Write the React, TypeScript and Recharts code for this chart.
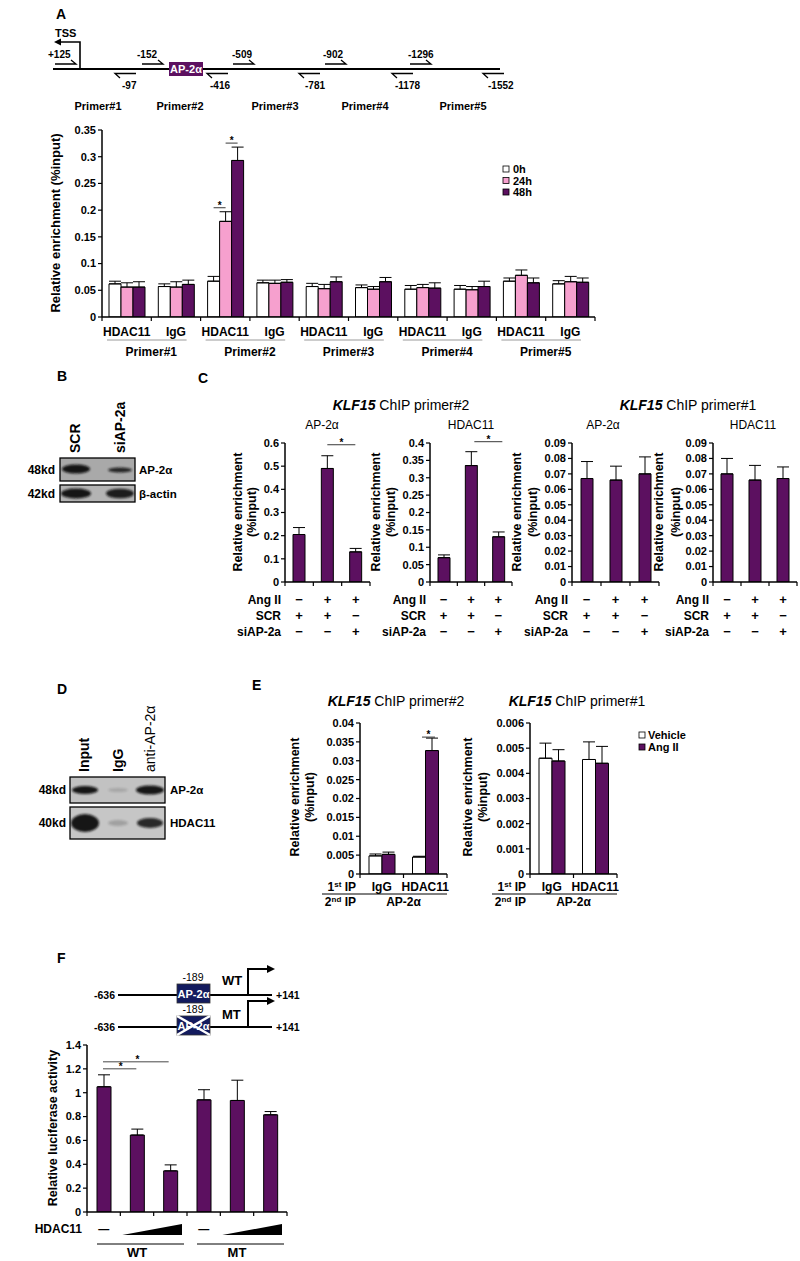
import React from "react";
import { BarChart, Bar, XAxis, YAxis, ErrorBar, LabelList } from "recharts";

const FONT = "'Liberation Sans', Arial, Helvetica, sans-serif";
const INK = "#000";
const PINK = "#f6a0ce";
const PURPLE = "#5c1060";
const NAVY = "#131b5e";

// ---- Panel A: ChIP over the KLF15 promoter, 0h / 24h / 48h
const aCats = ["HDAC11", "IgG", "HDAC11", "IgG", "HDAC11", "IgG", "HDAC11", "IgG", "HDAC11", "IgG"];
const aPrimers = ["Primer#1", "Primer#2", "Primer#3", "Primer#4", "Primer#5"];
const a0h = [0.062, 0.057, 0.067, 0.064, 0.057, 0.055, 0.052, 0.052, 0.067, 0.062];
const a24h = [0.056, 0.056, 0.179, 0.063, 0.053, 0.052, 0.055, 0.051, 0.078, 0.066];
const a48h = [0.056, 0.061, 0.293, 0.065, 0.066, 0.066, 0.054, 0.057, 0.064, 0.065];
const a0hErr = [0.005, 0.005, 0.009, 0.005, 0.006, 0.005, 0.007, 0.007, 0.006, 0.006];
const a24hErr = [0.008, 0.010, 0.018, 0.006, 0.008, 0.005, 0.006, 0.006, 0.010, 0.010];
const a48hErr = [0.010, 0.008, 0.025, 0.005, 0.009, 0.008, 0.010, 0.010, 0.009, 0.008];
const aTicks = [0, 0.05, 0.1, 0.15, 0.2, 0.25, 0.3, 0.35];

// ---- Panel C: ChIP at primer#2 / primer#1 after siAP-2a
const cConds = ["SCR", "Ang II + SCR", "Ang II + siAP-2a"];
const cRowNames = ["Ang II", "SCR", "siAP-2a"];
const cAngII = ["\u2212", "+", "+"];
const cSCR = ["+", "+", "\u2212"];
const cSi = ["\u2212", "\u2212", "+"];
const c1Vals = [0.205, 0.49, 0.13];
const c1Err = [0.03, 0.055, 0.015];
const c2Vals = [0.07, 0.335, 0.13];
const c2Err = [0.008, 0.04, 0.014];
const c3Vals = [0.067, 0.066, 0.07];
const c3Err = [0.011, 0.009, 0.011];
const c4Vals = [0.07, 0.066, 0.067];
const c4Err = [0.01, 0.0095, 0.0075];
const c1Ticks = [0, 0.1, 0.2, 0.3, 0.4, 0.5, 0.6];
const c2Ticks = [0, 0.05, 0.1, 0.15, 0.2, 0.25, 0.3, 0.35, 0.4];
const c34Ticks = [0, 0.01, 0.02, 0.03, 0.04, 0.05, 0.06, 0.07, 0.08, 0.09];

// ---- Panel E: re-ChIP
const eCats = ["IgG", "HDAC11"];
const e1Vehicle = [0.0048, 0.0045];
const e1AngII = [0.0052, 0.0327];
const e1VehicleErr = [0.0005, 0.0002];
const e1AngIIErr = [0.0006, 0.0033];
const e2Vehicle = [0.0046, 0.00455];
const e2AngII = [0.00449, 0.0044];
const e2VehicleErr = [0.0006, 0.0007];
const e2AngIIErr = [0.00045, 0.00067];
const e1Ticks = [0, 0.005, 0.01, 0.015, 0.02, 0.025, 0.03, 0.035, 0.04];
const e2Ticks = [0, 0.001, 0.002, 0.003, 0.004, 0.005, 0.006];

// ---- Panel F: luciferase
const fConstruct = ["WT", "WT", "WT", "MT", "MT", "MT"];
const fDose = [0, 1, 2, 0, 1, 2];
const fVals = [1.05, 0.645, 0.345, 0.94, 0.935, 0.815];
const fErr = [0.1, 0.05, 0.05, 0.085, 0.17, 0.027];
const fTicks = [0, 0.2, 0.4, 0.6, 0.8, 1, 1.2, 1.4];

// plot rectangles [left, top, right, bottom] in page px
const A_PLOT = [102, 130, 595, 317];
const C_PLOTS = [
  [285, 443, 370, 582],
  [430, 443, 512, 582],
  [572, 443, 659, 582],
  [713, 443, 797, 582],
];
const E_PLOTS = [
  [360, 723, 447, 874],
  [530, 723, 617, 874],
];
const F_PLOT = [87, 1045, 287, 1212];

const YW = 40;
const ML = 36;
const MR = 6;
const MT = 24;
const XH = 70;
const AXIS = { stroke: INK, strokeWidth: 1.5 };

const aData = aCats.map((cat, i) => ({
  cat,
  v0: a0h[i],
  v24: a24h[i],
  v48: a48h[i],
  e0: [0, a0hErr[i]],
  e24: [0, a24hErr[i]],
  e48: [0, a48hErr[i]],
}));

const cData = (vals: number[], errs: number[]) =>
  cConds.map((cond, i) => ({ cond, v: vals[i], e: [0, errs[i]] }));

const eData = (veh: number[], ang: number[], vehErr: number[], angErr: number[]) =>
  eCats.map((cat, i) => ({ cat, veh: veh[i], ang: ang[i], ve: [0, vehErr[i]], ae: [0, angErr[i]] }));

const fData = fVals.map((v, i) => ({ id: fConstruct[i] + fDose[i], v, e: [0, fErr[i]] }));

function ChartBox({ plot, data, barSize, children }: any) {
  const [x0, y0, x1, y1] = plot;
  return (
    <div style={{ position: "absolute", left: x0 - YW - ML, top: y0 - MT }}>
      <BarChart
        width={x1 - x0 + YW + ML + MR}
        height={y1 - y0 + MT + XH}
        data={data}
        margin={{ top: MT, right: MR, bottom: 0, left: ML }}
        barGap={0}
        barSize={barSize}
      >
        {children}
      </BarChart>
    </div>
  );
}

const yAxis = (ticks: number[]) => (
  <YAxis
    width={YW}
    type="number"
    domain={[0, ticks[ticks.length - 1]]}
    ticks={ticks}
    interval={0}
    tickSize={4}
    tickMargin={2}
    axisLine={AXIS}
    tickLine={{ stroke: INK, strokeWidth: 1.2 }}
    tick={{ fill: INK, fontSize: 11, fontWeight: 700 }}
    allowDataOverflow
  />
);

const errBar = (key: string) => (
  <ErrorBar dataKey={key} width={6} stroke={INK} strokeWidth={1} direction="y" isAnimationActive={false} />
);

// significance line + star drawn from the bar's own geometry
const sig = (match: number, err: number, dx1: number, dx2: number, lift: number) => (p: any) => {
  const v = Number(p.value);
  if (Math.abs(v - match) > 1e-9 || !p.height) return null;
  const top = p.y - (p.height / v) * err - lift;
  const cx = p.x + p.width / 2;
  return (
    <g>
      <line x1={cx + dx1} x2={cx + dx2} y1={top} y2={top} stroke="#222" strokeWidth={0.9} />
      <text x={cx + (dx1 + dx2) / 2} y={top + 1} textAnchor="middle" fontSize={10} fontWeight={700}>*</text>
    </g>
  );
};

const tickMarks = (left: number, w: number, y: number, last: boolean) => (
  <g>
    <line x1={left} x2={left} y1={y} y2={y + 4} stroke={INK} strokeWidth={1.2} />
    {last && <line x1={left + w} x2={left + w} y1={y} y2={y + 4} stroke={INK} strokeWidth={1.2} />}
  </g>
);

const aCatW = (A_PLOT[2] - A_PLOT[0]) / aCats.length;
function ATick({ x, y, index, payload }: any) {
  const left = x - aCatW / 2;
  return (
    <g>
      {tickMarks(left, aCatW, y, index === aCats.length - 1)}
      <text x={x} y={y + 19} textAnchor="middle" fontSize={12} fontWeight={700} fill={INK}>{payload.value}</text>
      {index % 2 === 0 && (
        <g>
          <line x1={left + 5} x2={left + 2 * aCatW - 14} y1={y + 23} y2={y + 23} stroke="#9a9a9a" strokeWidth={1} />
          <text x={left + aCatW} y={y + 39} textAnchor="middle" fontSize={12} fontWeight={700} fill={INK}>
            {aPrimers[index / 2]}
          </text>
        </g>
      )}
    </g>
  );
}

const cTick = (plot: number[]) => {
  const w = (plot[2] - plot[0]) / cConds.length;
  const rows = [cAngII, cSCR, cSi];
  return ({ x, y, index }: any) => {
    const left = x - w / 2;
    return (
      <g>
        {tickMarks(left, w, y, index === cConds.length - 1)}
        {rows.map((r, k) => (
          <text key={k} x={x} y={y + 21.5 + 16 * k} textAnchor="middle" fontSize={13} fontWeight={700} fill={INK}>{r[index]}</text>
        ))}
        {index === 0 &&
          cRowNames.map((n, k) => (
            <text key={n} x={left - 4} y={y + 21.5 + 16 * k} textAnchor="end" fontSize={12} fontWeight={700} fill={INK}>{n}</text>
          ))}
      </g>
    );
  };
};

const eTick = (plot: number[]) => {
  const w = (plot[2] - plot[0]) / eCats.length;
  return ({ x, y, index, payload }: any) => {
    const left = x - w / 2;
    return (
      <g>
        {tickMarks(left, w, y, index === eCats.length - 1)}
        <text x={x} y={y + 17} textAnchor="middle" fontSize={12} fontWeight={700} fill={INK}>{payload.value}</text>
        {index === 0 && (
          <g>
            <text x={left - 4} y={y + 17} textAnchor="end" fontSize={12} fontWeight={700} fill={INK}>
              1<tspan dy={-4} fontSize={8}>st</tspan><tspan dy={4}> IP</tspan>
            </text>
            <line x1={left - 38} x2={left + 2 * w} y1={y + 20} y2={y + 20} stroke={INK} strokeWidth={1} />
            <text x={left - 4} y={y + 32} textAnchor="end" fontSize={12} fontWeight={700} fill={INK}>
              2<tspan dy={-4} fontSize={8}>nd</tspan><tspan dy={4}> IP</tspan>
            </text>
            <text x={left + w} y={y + 32} textAnchor="middle" fontSize={12} fontWeight={700} fill={INK}>AP-2α</text>
          </g>
        )}
      </g>
    );
  };
};

const fCatW = (F_PLOT[2] - F_PLOT[0]) / fVals.length;
function FTick({ x, y, index }: any) {
  const left = x - fCatW / 2;
  const d = fDose[index];
  return (
    <g>
      {tickMarks(left, fCatW, y, index === fVals.length - 1)}
      {d === 0 && <text x={x} y={y + 21} textAnchor="middle" fontSize={11} fontWeight={700} fill={INK}>—</text>}
      {d === 1 && (
        <polygon
          points={`${left + 2},${y + 23} ${left + 2 * fCatW - 5},${y + 23} ${left + 2 * fCatW - 5},${y + 12}`}
          fill={INK}
        />
      )}
      {index === 0 && <text x={left - 5} y={y + 21} textAnchor="end" fontSize={12} fontWeight={700} fill={INK}>HDAC11</text>}
      {d === 0 && (
        <g>
          <line x1={left + 10} x2={left + 3 * fCatW - 3} y1={y + 32} y2={y + 32} stroke={INK} strokeWidth={1} />
          <text x={left + 1.5 * fCatW} y={y + 45} textAnchor="middle" fontSize={13} fontWeight={700} fill={INK}>
            {fConstruct[index]}
          </text>
        </g>
      )}
    </g>
  );
}

const fSig = (p: any) => {
  const v = Number(p.value);
  if (Math.abs(v - fVals[0]) > 1e-9 || !p.height) return null;
  const top = p.y - (p.height / v) * fErr[0];
  const cx = p.x + p.width / 2;
  return (
    <g>
      <line x1={cx - 1} x2={cx + fCatW - 1} y1={top - 6} y2={top - 6} stroke="#333" strokeWidth={0.9} />
      <text x={cx + fCatW / 2} y={top - 5} textAnchor="middle" fontSize={10} fontWeight={700}>*</text>
      <line x1={cx - 1} x2={cx + 2 * fCatW - 2} y1={top - 13} y2={top - 13} stroke="#333" strokeWidth={0.9} />
      <text x={cx + fCatW} y={top - 12} textAnchor="middle" fontSize={10} fontWeight={700}>*</text>
    </g>
  );
};

function T({ x, y, s = 12, w = 700, a = "start", fill = INK, children }: any) {
  return (
    <text x={x} y={y} fontSize={s} fontWeight={w} textAnchor={a} fill={fill}>
      {children}
    </text>
  );
}

function VText({ x, y, s = 12.5, w = 700, a = "middle", children }: any) {
  return (
    <text x={x} y={y} fontSize={s} fontWeight={w} textAnchor={a} dominantBaseline="central" transform={`rotate(-90 ${x} ${y})`}>
      {children}
    </text>
  );
}

// promoter schematic (panel A): forward / reverse primers [label, arrow x, label x]
const aFwd: [string, number, number][] = [["+125", 55, 48], ["-152", 142, 137], ["-509", 233, 232], ["-902", 325, 323], ["-1296", 410, 408]];
const aRev: [string, number, number][] = [["-97", 115, 122], ["-416", 207, 210], ["-781", 299, 305], ["-1178", 392, 395], ["-1552", 483, 488]];
const aPrimerX = [98, 180, 275, 365, 463];

function Blot({ x, y, w, h, fill, bands }: any) {
  return (
    <g>
      <rect x={x} y={y} width={w} height={h} fill={fill} />
      {bands.map((b: number[], i: number) => (
        <ellipse key={i} cx={b[0]} cy={b[1]} rx={b[2]} ry={b[3]} fill="#111" opacity={b[4]} filter="url(#soft)" />
      ))}
      <rect x={x} y={y} width={w} height={h} fill="none" stroke={INK} strokeWidth={1.3} />
    </g>
  );
}

function Promoter({ y, mutant }: any) {
  const bx = 177;
  const top = y - 11;
  return (
    <g>
      <line x1={118} x2={272} y1={y} y2={y} stroke={INK} strokeWidth={2} />
      <T x={115} y={y + 4} s={10.5} a="end">-636</T>
      <T x={276} y={y + 4} s={10.5}>+141</T>
      <T x={193} y={top - 3} s={10.5} w={400} a="middle">-189</T>
      <T x={222} y={mutant ? y - 8 : y - 10} s={13}>{mutant ? "MT" : "WT"}</T>
      <rect x={bx} y={top} width={33} height={19} fill={NAVY} stroke="#333" strokeWidth={0.8} />
      <T x={bx + 16.5} y={top + 14} s={11} a="middle" fill="#fff">AP-2α</T>
      {mutant && (
        <g>
          <line x1={bx} y1={top} x2={bx + 33} y2={top + 19} stroke="#fff" strokeWidth={2.5} />
          <line x1={bx} y1={top + 19} x2={bx + 33} y2={top} stroke="#fff" strokeWidth={2.5} />
        </g>
      )}
      <polyline points={`248,${y} 248,${y - 26} 268,${y - 26}`} fill="none" stroke={INK} strokeWidth={2} />
      <polygon points={`267,${y - 30} 275,${y - 26} 267,${y - 22}`} fill={INK} />
    </g>
  );
}

export default function App() {
  const cCharts = [
    { plot: C_PLOTS[0], data: cData(c1Vals, c1Err), ticks: c1Ticks, sig: sig(c1Vals[1], c1Err[1], 0, 28, 11) },
    { plot: C_PLOTS[1], data: cData(c2Vals, c2Err), ticks: c2Ticks, sig: sig(c2Vals[1], c2Err[1], 3, 31, 10) },
    { plot: C_PLOTS[2], data: cData(c3Vals, c3Err), ticks: c34Ticks, sig: null },
    { plot: C_PLOTS[3], data: cData(c4Vals, c4Err), ticks: c34Ticks, sig: null },
  ];
  const cTitles = ["AP-2α", "HDAC11", "AP-2α", "HDAC11"];
  const cTitleX = [322, 471, 603, 753];
  const cLabelX = [[238, 252], [376, 391], [517, 533], [659, 676]];

  const eCharts = [
    { plot: E_PLOTS[0], data: eData(e1Vehicle, e1AngII, e1VehicleErr, e1AngIIErr), ticks: e1Ticks, sig: sig(e1AngII[1], e1AngIIErr[1], -10, 3, 1) },
    { plot: E_PLOTS[1], data: eData(e2Vehicle, e2AngII, e2VehicleErr, e2AngIIErr), ticks: e2Ticks, sig: null },
  ];

  return (
    <div
      style={{
        position: "absolute",
        left: 0,
        top: 0,
        width: 800,
        height: 1261,
        background: "#fff",
        overflow: "hidden",
        fontFamily: FONT,
      }}
    >
      {/* A */}
      <ChartBox plot={A_PLOT} data={aData} barSize={12}>
        <XAxis dataKey="cat" height={XH} interval={0} tickSize={0} tickMargin={0} tickLine={false} axisLine={AXIS} tick={ATick} />
        {yAxis(aTicks)}
        <Bar dataKey="v0" fill="#fff" stroke={INK} strokeWidth={1} isAnimationActive={false}>
          {errBar("e0")}
        </Bar>
        <Bar dataKey="v24" fill={PINK} stroke={INK} strokeWidth={1} isAnimationActive={false}>
          {errBar("e24")}
          <LabelList content={sig(a24h[2], a24hErr[2], -12, 0, 4)} />
        </Bar>
        <Bar dataKey="v48" fill={PURPLE} stroke={INK} strokeWidth={1} isAnimationActive={false}>
          {errBar("e48")}
          <LabelList content={sig(a48h[2], a48hErr[2], -12, 0, 4)} />
        </Bar>
      </ChartBox>

      {/* C */}
      {cCharts.map((c, i) => (
        <ChartBox key={i} plot={c.plot} data={c.data} barSize={12}>
          <XAxis dataKey="cond" height={XH} interval={0} tickSize={0} tickMargin={0} tickLine={false} axisLine={AXIS} tick={cTick(c.plot)} />
          {yAxis(c.ticks)}
          <Bar dataKey="v" fill={PURPLE} stroke={INK} strokeWidth={1} isAnimationActive={false}>
            {errBar("e")}
            {c.sig && <LabelList content={c.sig} />}
          </Bar>
        </ChartBox>
      ))}

      {/* E */}
      {eCharts.map((c, i) => (
        <ChartBox key={i} plot={c.plot} data={c.data} barSize={13}>
          <XAxis dataKey="cat" height={XH} interval={0} tickSize={0} tickMargin={0} tickLine={false} axisLine={AXIS} tick={eTick(c.plot)} />
          {yAxis(c.ticks)}
          <Bar dataKey="veh" fill="#fff" stroke={INK} strokeWidth={1} isAnimationActive={false}>
            {errBar("ve")}
          </Bar>
          <Bar dataKey="ang" fill={PURPLE} stroke={INK} strokeWidth={1} isAnimationActive={false}>
            {errBar("ae")}
            {c.sig && <LabelList content={c.sig} />}
          </Bar>
        </ChartBox>
      ))}

      {/* F */}
      <ChartBox plot={F_PLOT} data={fData} barSize={14}>
        <XAxis dataKey="id" height={XH} interval={0} tickSize={0} tickMargin={0} tickLine={false} axisLine={AXIS} tick={FTick} />
        {yAxis(fTicks)}
        <Bar dataKey="v" fill={PURPLE} stroke={INK} strokeWidth={1} isAnimationActive={false}>
          {errBar("e")}
          <LabelList content={fSig} />
        </Bar>
      </ChartBox>

      <svg width={800} height={1261} style={{ position: "absolute", left: 0, top: 0, pointerEvents: "none" }}>
        <defs>
          <filter id="soft" x="-30%" y="-60%" width="160%" height="220%">
            <feGaussianBlur stdDeviation="1.2" />
          </filter>
        </defs>

        {/* panel letters */}
        <T x={56} y={19} s={14}>A</T>
        <T x={57} y={381} s={14}>B</T>
        <T x={198} y={383} s={14}>C</T>
        <T x={57} y={694} s={14}>D</T>
        <T x={252} y={690} s={14}>E</T>
        <T x={57} y={963} s={14}>F</T>

        {/* A promoter schematic */}
        <T x={55} y={37} s={11}>TSS</T>
        <polyline points="80,69 80,42 60,42" fill="none" stroke={INK} strokeWidth={1.6} />
        <polygon points="61,38.5 54,42 61,45.5" fill={INK} />
        <line x1={53} x2={500} y1={69} y2={69} stroke={INK} strokeWidth={2} />
        {aFwd.map(([t, x, lx]) => (
          <g key={t}>
            <T x={lx} y={58} s={10}>{t}</T>
            <polyline points={`${x},64 ${x + 21},64 ${x + 16},60`} fill="none" stroke={INK} strokeWidth={1.3} />
          </g>
        ))}
        {aRev.map(([t, x, lx]) => (
          <g key={t}>
            <T x={lx} y={89} s={10}>{t}</T>
            <polyline points={`${x + 5},78 ${x},73.5 ${x + 21},73.5`} fill="none" stroke={INK} strokeWidth={1.3} />
          </g>
        ))}
        <rect x={169} y={62} width={34} height={14} fill={PURPLE} />
        <T x={186} y={73} s={11} a="middle" fill="#fff">AP-2α</T>
        {aPrimers.map((p, i) => (
          <T key={p} x={aPrimerX[i]} y={110} s={11} a="middle">{p}</T>
        ))}

        {/* A axis title + legend */}
        <VText x={55} y={223} s={13}>Relative enrichment (%input)</VText>
        {[["0h", "#fff"], ["24h", PINK], ["48h", PURPLE]].map(([t, f], i) => (
          <g key={t}>
            <rect x={503} y={166 + i * 11.5} width={6} height={6} fill={f} stroke={INK} strokeWidth={0.8} />
            <T x={513} y={173 + i * 11.5} s={11}>{t}</T>
          </g>
        ))}

        {/* B western blot */}
        <VText x={75} y={453} s={14} a="start">SCR</VText>
        <VText x={120} y={453} s={14} a="start">siAP-2a</VText>
        <Blot x={60} y={458} w={75} h={23} fill="#a9a9a9" bands={[[76, 469, 14, 4.5, 0.95], [120, 470, 12, 2.5, 0.85]]} />
        <Blot x={60} y={485} w={75} h={17} fill="#b4b4b4" bands={[[76, 493.5, 15, 5, 0.95], [120, 493.5, 14, 4.8, 0.9]]} />
        <T x={55} y={474} a="end">48kd</T>
        <T x={55} y={498} a="end">42kd</T>
        <T x={139} y={474} s={11.5}>AP-2α</T>
        <T x={139} y={498} s={11.5}>β-actin</T>

        {/* C titles and axis labels */}
        <text x={401} y={410} fontSize={14} textAnchor="middle">
          <tspan fontWeight={700} fontStyle="italic">KLF15</tspan> ChIP primer#2
        </text>
        <text x={688} y={410} fontSize={14} textAnchor="middle">
          <tspan fontWeight={700} fontStyle="italic">KLF15</tspan> ChIP primer#1
        </text>
        {cTitles.map((t, i) => (
          <g key={i}>
            <T x={cTitleX[i]} y={429} s={12} w={400} a="middle">{t}</T>
            <VText x={cLabelX[i][0]} y={512}>Relative enrichment</VText>
            <VText x={cLabelX[i][1]} y={512}>(%input)</VText>
          </g>
        ))}

        {/* D co-IP blot */}
        <VText x={84} y={772} s={14} a="start">Input</VText>
        <VText x={118} y={772} s={14} a="start">IgG</VText>
        <VText x={150} y={772} s={14} w={400} a="start">anti-AP-2α</VText>
        <Blot x={70} y={777} w={95} h={26} fill="#c2c2c2" bands={[[85, 790, 13, 4, 0.95], [118, 790, 10, 2, 0.15], [150, 790, 14, 4.5, 0.95]]} />
        <Blot x={70} y={807} w={95} h={32} fill="#c6c6c6" bands={[[85, 823, 14, 9, 0.95], [118, 823, 10, 3, 0.2], [150, 823, 13, 5, 0.85]]} />
        <T x={66} y={794} a="end">48kd</T>
        <T x={66} y={827} a="end">40kd</T>
        <T x={170} y={794} s={11.5}>AP-2α</T>
        <T x={170} y={827} s={11.5}>HDAC11</T>

        {/* E titles, axis labels, legend */}
        <text x={396} y={706} fontSize={14} textAnchor="middle">
          <tspan fontWeight={700} fontStyle="italic">KLF15</tspan> ChIP primer#2
        </text>
        <text x={577} y={706} fontSize={14} textAnchor="middle">
          <tspan fontWeight={700} fontStyle="italic">KLF15</tspan> ChIP primer#1
        </text>
        <VText x={295} y={797}>Relative enrichment</VText>
        <VText x={310} y={797}>(%input)</VText>
        <VText x={468} y={797}>Relative enrichment</VText>
        <VText x={483} y={797}>(%input)</VText>
        {[["Vehicle", "#fff"], ["Ang II", PURPLE]].map(([t, f], i) => (
          <g key={t}>
            <rect x={639} y={732 + i * 12} width={6} height={6} fill={f} stroke={INK} strokeWidth={0.8} />
            <T x={648} y={739 + i * 12} s={11}>{t}</T>
          </g>
        ))}

        {/* F constructs */}
        <Promoter y={995} />
        <Promoter y={1027} mutant />
        <VText x={53} y={1128}>Relative luciferase activity</VText>
      </svg>
    </div>
  );
}
